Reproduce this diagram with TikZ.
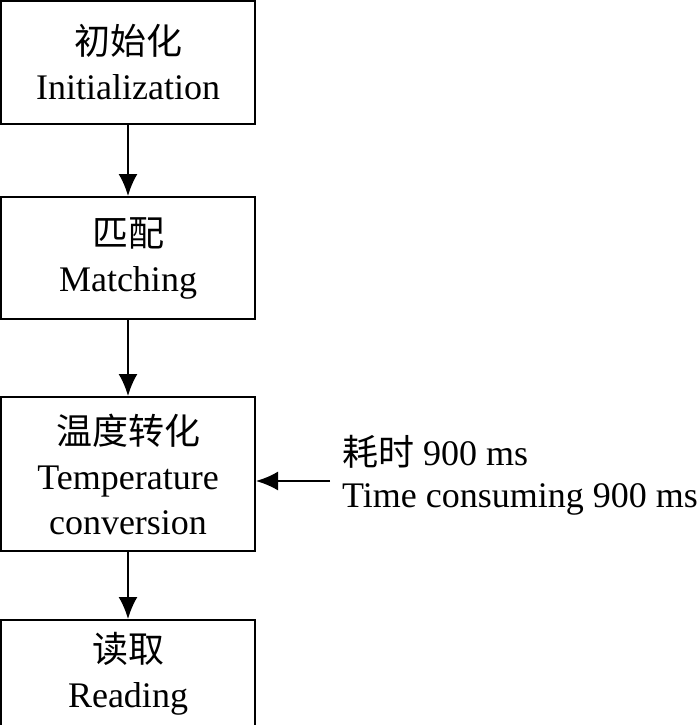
\documentclass[tikz,border=0pt]{standalone}
\usepackage{fontspec}
\setmainfont{Liberation Serif}
\newfontfamily\cjk{Noto Sans CJK SC}
\usepackage{tikz}
\usetikzlibrary{positioning,arrows.meta}
\tikzset{block/.style={draw,line width=2pt,minimum width=254pt,inner sep=0pt,align=center,
    font=\fontsize{36}{45}\selectfont}}
\tikzset{arr/.style={line width=2pt,-{Latex[length=22pt,width=19pt]}}}

\begin{document}
\begin{tikzpicture}[x=1pt,y=1pt]
\useasboundingbox (0,0) rectangle (700,-725);

\node[block,
    minimum height=123pt
] (block1) at (128,-62.5) { {\cjk 初始化} \\ Initialization };

\node[block,
	below=71pt of block1,
    minimum height=122pt
] (block2) { {\cjk 匹配} \\ Matching };

\node[block,
	below=76pt of block2,
    minimum height=154pt
] (block3) { {\cjk 温度转化} \\ Temperature \\ conversion };

\node[block,
	below=67pt of block3,
    minimum height=108pt
] (block4) { {\cjk 读取} \\ Reading };

\node[anchor=west,align=left,inner sep=0pt,
    font=\fontsize{36}{42}\selectfont
] (note) at (342,-475) { {\cjk 耗时} 900 ms \\ Time consuming 900 ms };

\coordinate (tip) at ([yshift=-7pt]block3.east);
\coordinate (src) at ([xshift=74pt]tip);

% Arrows
\draw (block1) edge[arr] (block2)
    (block2) edge[arr] (block3)
    (block3) edge[arr] (block4)
    (src) edge[arr] (tip)
    ;
\end{tikzpicture}
\end{document}
